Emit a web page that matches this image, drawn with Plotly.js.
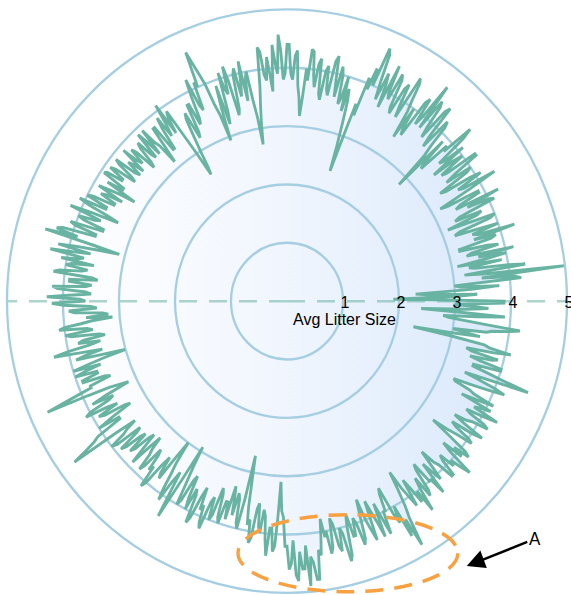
<!DOCTYPE html>
<html>
<head>
<meta charset="utf-8">
<script src="https://cdn.plot.ly/plotly-3.0.1.min.js"></script>
<style>
  html, body { margin: 0; padding: 0; background: #ffffff; overflow: hidden; }
  #wrap { width: 571px; height: 595px; overflow: hidden; }
  #chart { width: 571px; height: 571px; transform: scaleY(1.042); transform-origin: 0 0; }
</style>
</head>
<body>
<div id="wrap"><div id="chart"></div></div>
<script>
// Angle in degrees (counter-clockwise from east), one value every half degree
const angles = [];
for (let i = 0; i < 720; i++) angles.push(i * 0.5);

// Average litter size (rows of 10 degrees, 20 values each)
const litterSize = [
  3.9, 2.6, 1.9, 3.0, 3.4, 2.5, 2.3, 3.3, 3.8, 3.1, 3.0, 4.2, 4.1, 3.5, 5.0, 3.6, 3.2, 4.3, 4.0, 3.4,
  3.3, 3.9, 3.1, 3.6, 4.0, 3.5, 4.15, 3.3, 3.4, 3.9, 3.7, 3.2, 3.2, 3.8, 3.9, 3.5, 4.27, 3.6, 3.5, 4.0,
  3.6, 3.2, 3.3, 3.9, 4.0, 3.5, 3.12, 3.7, 3.8, 3.3, 3.4, 4.1, 4.0, 3.6, 4.23, 3.4, 3.5, 3.9, 3.9, 3.3,
  3.16, 3.8, 4.32, 3.7, 3.6, 4.1, 3.9, 3.4, 3.3, 3.9, 4.0, 3.5, 3.7, 4.2, 4.2, 3.6, 3.5, 4.0, 3.8, 3.4,
  4.1, 3.7, 3.6, 4.2, 4.4, 3.8, 3.9, 3.3, 3.4, 3.9, 2.83, 3.5, 3.7, 4.1, 4.2, 3.6, 3.8, 4.4, 4.3, 3.7,
  3.9, 4.3, 4.4, 3.8, 4.65, 4.0, 3.8, 4.3, 4.2, 3.5, 3.6, 4.0, 3.4, 3.9, 4.1, 4.4, 4.5, 3.7, 3.9, 4.3,
  4.2, 3.7, 3.8, 4.3, 4.4, 3.9, 4.0, 4.5, 3.7, 4.1, 4.3, 3.8, 4.1, 4.6, 4.7, 4.0, 4.3, 3.9, 4.1, 3.4,
  3.6, 2.9, 2.36, 2.8, 3.2, 3.6, 3.8, 3.4, 4.0, 3.6, 3.5, 4.0, 4.14, 3.6, 3.9, 4.3, 4.2, 3.6, 3.7, 4.1,
  4.0, 3.5, 3.6, 4.2, 4.1, 3.7, 3.9, 4.3, 4.34, 3.8, 4.0, 3.5, 3.18, 3.5, 3.7, 4.3, 4.2, 3.8, 3.9, 4.4,
  4.4, 3.9, 3.8, 4.3, 4.57, 3.9, 4.1, 4.4, 3.6, 3.9, 4.2, 3.8, 3.9, 4.3, 4.38, 3.7, 3.4, 3.1, 2.72, 3.2,
  3.5, 4.0, 3.9, 3.5, 4.2, 3.8, 3.6, 4.1, 4.0, 3.4, 3.3, 3.9, 4.18, 3.7, 3.8, 4.1, 3.4, 3.2, 3.9, 3.5,
  2.93, 3.4, 3.6, 4.0, 4.2, 4.4, 4.63, 4.0, 4.1, 3.6, 3.7, 4.2, 3.9, 3.5, 3.4, 3.8, 3.8, 3.3, 3.2, 3.7,
  3.6, 3.3, 3.0, 2.7, 2.56, 3.0, 3.4, 3.9, 3.8, 3.5, 4.09, 3.7, 3.5, 3.9, 3.7, 3.3, 3.3, 3.8, 3.8, 3.4,
  3.12, 3.5, 3.6, 3.9, 3.4, 3.7, 3.9, 3.4, 3.5, 3.8, 3.7, 3.4, 3.3, 3.7, 3.8, 3.5, 3.6, 3.9, 3.4, 3.6,
  3.7, 3.4, 3.5, 3.9, 3.8, 3.5, 3.4, 3.8, 3.9, 3.6, 3.6, 3.9, 3.94, 3.5, 3.5, 3.8, 3.21, 3.5, 3.7, 3.9,
  3.4, 3.7, 3.8, 3.5, 3.5, 3.9, 4.0, 3.6, 3.6, 4.1, 3.9, 3.5, 3.3, 3.8, 4.2, 3.6, 3.7, 4.0, 3.9, 3.5,
  3.5, 4.1, 4.0, 3.6, 3.6, 4.2, 4.3, 3.9, 4.49, 3.6, 3.1, 3.5, 3.9, 4.2, 3.6, 3.9, 4.32, 3.7, 3.8, 4.1,
  3.5, 3.9, 4.0, 3.6, 3.7, 4.1, 4.2, 3.5, 3.4, 3.9, 3.9, 3.5, 3.6, 4.2, 4.1, 3.6, 3.5, 3.9, 4.29, 3.7,
  3.6, 4.2, 4.0, 3.5, 3.4, 3.9, 3.8, 3.3, 3.2, 3.6, 3.13, 3.5, 3.7, 4.0, 4.1, 3.6, 3.5, 4.0, 3.9, 3.4,
  3.3, 3.7, 3.8, 3.4, 3.6, 4.0, 4.27, 3.8, 3.4, 3.7, 3.9, 3.4, 3.01, 3.4, 3.7, 4.0, 3.5, 3.8, 4.0, 3.6,
  3.6, 3.9, 3.9, 3.5, 3.4, 3.8, 3.8, 4.2, 4.68, 3.9, 3.5, 3.3, 3.15, 3.6, 3.9, 3.5, 3.6, 4.0, 4.1, 3.7,
  3.5, 3.9, 3.8, 3.4, 3.3, 3.7, 4.0, 3.6, 3.6, 4.1, 4.2, 4.4, 4.69, 3.8, 3.4, 3.6, 3.7, 4.0, 3.9, 3.4,
  3.5, 3.9, 3.8, 3.5, 3.4, 3.8, 3.7, 3.4, 3.3, 3.6, 3.9, 3.5, 3.26, 3.5, 3.6, 3.9, 3.8, 3.4, 3.5, 3.8,
  3.7, 4.1, 4.0, 3.6, 3.4, 3.7, 3.8, 3.3, 3.0, 3.4, 3.6, 3.9, 4.1, 3.7, 3.5, 3.9, 4.34, 3.6, 2.92, 3.3,
  3.6, 4.0, 3.9, 3.5, 3.4, 3.8, 4.0, 3.6, 3.7, 4.2, 4.1, 3.7, 3.5, 3.9, 3.8, 4.1, 4.2, 3.7, 3.6, 4.0,
  3.9, 3.4, 3.5, 3.9, 4.0, 3.6, 3.6, 3.9, 3.3, 3.5, 3.8, 3.4, 3.5, 3.9, 4.0, 3.5, 2.71, 3.1, 3.6, 3.9,
  3.8, 4.2, 4.1, 3.6, 3.5, 3.9, 4.0, 3.6, 3.7, 4.1, 4.38, 3.9, 3.9, 4.3, 4.2, 3.7, 3.1, 3.6, 3.7, 4.2,
  4.2, 4.6, 4.5, 4.1, 4.7, 4.8, 4.3, 4.6, 4.6, 4.2, 4.9, 4.4, 4.5, 4.8, 4.8, 4.3, 4.4, 4.1, 3.78, 4.1,
  4.0, 4.4, 4.3, 3.8, 3.9, 4.3, 4.4, 4.0, 4.1, 4.6, 4.5, 4.0, 3.8, 4.2, 4.2, 3.9, 4.0, 4.4, 4.3, 3.9,
  3.62, 4.0, 4.2, 4.4, 3.7, 3.9, 4.1, 4.4, 3.8, 4.1, 4.4, 4.0, 4.0, 3.7, 3.6, 4.1, 4.3, 4.0, 4.6, 4.3,
  4.82, 4.3, 4.1, 3.8, 3.46, 3.8, 4.0, 4.2, 3.7, 3.9, 4.2, 4.0, 4.42, 4.0, 3.8, 4.2, 4.1, 3.7, 3.6, 4.0,
  4.0, 4.3, 3.7, 3.9, 4.1, 3.8, 3.53, 3.8, 3.9, 4.2, 4.2, 3.9, 3.8, 4.1, 4.0, 4.2, 4.39, 3.9, 3.7, 4.1,
  3.9, 4.2, 4.1, 3.7, 3.31, 3.6, 3.8, 4.1, 4.0, 3.7, 3.6, 4.0, 4.2, 3.8, 3.57, 3.8, 3.9, 4.2, 4.1, 3.8,
  3.7, 4.0, 4.29, 3.8, 3.9, 4.1, 3.5, 3.8, 4.1, 3.7, 3.6, 3.3, 3.26, 3.6, 3.9, 4.2, 4.0, 3.7, 3.4, 3.9,
  4.58, 4.1, 3.8, 3.5, 3.5, 4.0, 4.0, 3.6, 3.4, 3.8, 3.9, 3.4, 3.3, 3.8, 4.1, 3.7, 3.6, 3.0, 2.3, 2.9,
  3.5, 3.2, 3.0, 3.6, 3.7, 4.0, 4.19, 3.6, 3.2, 2.9, 2.8, 3.4, 3.9, 3.1, 2.4, 3.2, 3.6, 3.3, 3.0, 3.9
];

const radialTicks = [1, 2, 3, 4, 5];
const radialTickText = ['1', '2', '3', '4', '5'];
const radialTitle = 'Avg Litter Size';
const noteLabel = 'A';

// Bottom layer: gradient-filled area under the line
const fillTrace = {
  type: 'scatterpolar',
  subplot: 'polar',
  mode: 'lines',
  theta: angles,
  r: litterSize,
  fill: 'toself',
  fillcolor: '#edf4fd',
  line: { color: 'rgba(0,0,0,0)', width: 0 },
  hoverinfo: 'skip',
  showlegend: false
};

// Top layer: the line itself, drawn above the grid
const lineTrace = {
  type: 'scatterpolar',
  subplot: 'polar2',
  mode: 'lines',
  theta: angles,
  r: litterSize,
  line: { color: '#69b3a2', width: 2.8 },
  hoverinfo: 'skip',
  showlegend: false
};

const fullDomain = { x: [0, 1], y: [0, 1] };

const layout = {
  width: 571,
  height: 571,
  margin: { l: 7, r: 4, t: 9, b: 2 },
  paper_bgcolor: '#ffffff',
  font: { family: 'Liberation Sans, Arial, sans-serif', size: 16, color: '#000000' },
  showlegend: false,
  polar: {
    domain: fullDomain,
    bgcolor: 'rgba(0,0,0,0)',
    radialaxis: { range: [0, 5], showgrid: false, showline: false, showticklabels: false, ticks: '' },
    angularaxis: { showgrid: false, showline: false, showticklabels: false, ticks: '', rotation: 0, direction: 'counterclockwise' }
  },
  polar2: {
    domain: fullDomain,
    bgcolor: 'rgba(0,0,0,0)',
    radialaxis: {
      range: [0, 5],
      tickvals: radialTicks,
      ticktext: radialTickText,
      angle: 0,
      tickangle: 0,
      showline: false,
      ticks: '',
      gridcolor: '#a6cee3',
      gridwidth: 2.3,
      tickfont: { size: 16, color: '#000000' },
      layer: 'above traces'
    },
    angularaxis: {
      showticklabels: false,
      ticks: '',
      dtick: 180,
      rotation: 0,
      direction: 'counterclockwise',
      showline: true,
      linecolor: '#a6cee3',
      linewidth: 2.3,
      gridcolor: 'rgba(105,179,162,0.55)',
      gridwidth: 2.4,
      griddash: '18px,12px'
    }
  },
  shapes: [{
    type: 'circle',
    xref: 'paper', yref: 'paper',
    x0: 0.4125, x1: 0.805, y0: 0.002, y1: 0.134,
    line: { color: '#f9a040', width: 3.4, dash: '18px,11px' },
    fillcolor: 'rgba(0,0,0,0)'
  }],
  annotations: [
    {
      xref: 'paper', yref: 'paper',
      x: 0.602, y: 0.468,
      text: radialTitle,
      showarrow: false,
      font: { size: 16, color: '#000000' }
    },
    {
      xref: 'paper', yref: 'paper',
      x: 0.821, y: 0.046,
      text: noteLabel,
      showarrow: true,
      ax: 68, ay: -26,
      arrowhead: 2,
      arrowsize: 1.5,
      arrowwidth: 2.4,
      arrowcolor: '#000000',
      font: { size: 17, color: '#000000' }
    }
  ]
};

Plotly.newPlot('chart', [fillTrace, lineTrace], layout, { displayModeBar: false, staticPlot: true }).then(function (gd) {
  // horizontal gradient for the area fill (white on the left, light blue on the right)
  const svg = gd.querySelector('.main-svg');
  const ns = 'http://www.w3.org/2000/svg';
  let defs = svg.querySelector('defs');
  if (!defs) { defs = document.createElementNS(ns, 'defs'); svg.insertBefore(defs, svg.firstChild); }
  const grad = document.createElementNS(ns, 'linearGradient');
  grad.setAttribute('id', 'litterFillGrad');
  grad.setAttribute('x1', '0'); grad.setAttribute('y1', '0');
  grad.setAttribute('x2', '1'); grad.setAttribute('y2', '0');
  [['0', '#ffffff'], ['0.45', '#f1f6fe'], ['1', '#d3e5fa']].forEach(function (s) {
    const st = document.createElementNS(ns, 'stop');
    st.setAttribute('offset', s[0]);
    st.setAttribute('stop-color', s[1]);
    grad.appendChild(st);
  });
  defs.appendChild(grad);
  gd.querySelectorAll('.js-fill').forEach(function (p) { p.style.fill = 'url(#litterFillGrad)'; });

  // centre radial tick labels on the axis line
  gd.querySelectorAll('g.radial-axis').forEach(function (g) {
    g.setAttribute('transform', (g.getAttribute('transform') || '') + ' translate(2,-9.5)');
  });
});
</script>
</body>
</html>
